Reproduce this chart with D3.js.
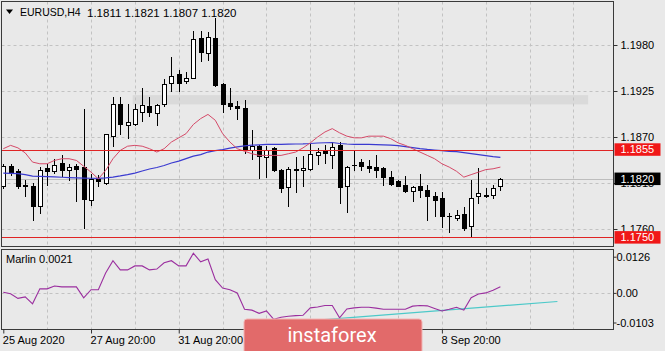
<!DOCTYPE html>
<html>
<head>
<meta charset="utf-8">
<script src="https://cdnjs.cloudflare.com/ajax/libs/d3/7.8.5/d3.min.js"></script>
<style>
    body { margin: 0; background: #e9e9e9; }
    svg { display: block; font-family: "Liberation Sans", Arial, sans-serif; }
</style>
</head>
<body>
<svg id="fig" width="665" height="351"></svg>
<script>
// EURUSD H4 candles
const opens = [1.1811,1.1835,1.1829,1.1813,1.1812,1.1787,1.1833,1.1829,1.1839,1.1831,
               1.1835,1.1834,1.1795,1.1820,1.1815,1.1871,1.1909,1.1884,1.1886,1.1900,
               1.1907,1.1899,1.1909,1.1934,1.1945,1.1937,1.1941,1.1988,1.1971,1.1988,
               1.1933,1.1911,1.1907,1.1905,1.1855,1.1859,1.1846,1.1857,1.1831,1.1810,
               1.1832,1.1830,1.1832,1.1848,1.1854,1.1849,1.1861,1.1811,1.1836,1.1840,
               1.1835,1.1834,1.1833,1.1822,1.1817,1.1813,1.1805,1.1811,1.1807,1.1799,
               1.1797,1.1776,1.1773,1.1778,1.1763,1.1799,1.1801,1.1801,1.1811];
const highs = [1.1838,1.1838,1.1832,1.1819,1.1815,1.1834,1.1838,1.1844,1.1849,1.1838,
               1.1838,1.1903,1.1826,1.1825,1.1874,1.1918,1.1918,1.1910,1.1910,1.1928,
               1.1918,1.1909,1.1939,1.1966,1.1950,1.1948,1.1997,1.1997,1.1995,1.2012,
               1.1934,1.1928,1.1913,1.1914,1.1878,1.1860,1.1859,1.1858,1.1832,1.1834,
               1.1846,1.1847,1.1862,1.1857,1.1861,1.1864,1.1864,1.1835,1.1854,1.1844,
               1.1842,1.1848,1.1834,1.1829,1.1819,1.1823,1.1812,1.1826,1.1813,1.1804,
               1.1804,1.1779,1.1783,1.1786,1.1819,1.1833,1.1809,1.1813,1.1821];
const lows  = [1.1809,1.1825,1.1809,1.1799,1.1771,1.1779,1.1813,1.1827,1.1823,1.1819,
               1.1793,1.1761,1.1789,1.1811,1.1814,1.1859,1.1874,1.1869,1.1884,1.1889,
               1.1895,1.1884,1.1907,1.1925,1.1925,1.1934,1.1940,1.1961,1.1962,1.1931,
               1.1900,1.1903,1.1891,1.1851,1.1844,1.1821,1.1822,1.1829,1.1804,1.1787,
               1.1804,1.1811,1.1830,1.1838,1.1839,1.1833,1.1791,1.1780,1.1831,1.1830,
               1.1828,1.1822,1.1813,1.1813,1.1811,1.1804,1.1794,1.1798,1.1771,1.1776,
               1.1762,1.1756,1.1771,1.1759,1.1751,1.1791,1.1798,1.1797,1.1807];
const closes = [1.1835,1.1827,1.1811,1.1811,1.1787,1.1831,1.1829,1.1837,1.1831,1.1834,
                1.1832,1.1796,1.1820,1.1817,1.1873,1.1909,1.1885,1.1888,1.1903,1.1908,
                1.1900,1.1908,1.1933,1.1943,1.1935,1.1940,1.1987,1.1972,1.1989,1.1932,
                1.1910,1.1907,1.1905,1.1856,1.1859,1.1847,1.1854,1.1830,1.1809,1.1832,
                1.1831,1.1833,1.1850,1.1852,1.1851,1.1858,1.1810,1.1834,1.1837,1.1835,
                1.1833,1.1831,1.1822,1.1814,1.1812,1.1805,1.1810,1.1807,1.1799,1.1795,
                1.1775,1.1775,1.1777,1.1761,1.1797,1.1803,1.1800,1.1809,1.1820];

// moving averages
const maRed = [1.1856,1.1860,1.1857,1.1851,1.1840,1.1838,1.1838,1.1842,1.1844,1.1844,
               1.1842,1.1835,1.1828,1.1820,1.1830,1.1844,1.1854,1.1859,1.1860,1.1859,
               1.1856,1.1852,1.1856,1.1864,1.1869,1.1874,1.1885,1.1892,1.1897,1.1890,
               1.1874,1.1864,1.1856,1.1853,1.1850,1.1848,1.1848,1.1848,1.1848,1.1850,
               1.1852,1.1857,1.1863,1.1870,1.1876,1.1880,1.1875,1.1871,1.1869,1.1869,
               1.1871,1.1871,1.1871,1.1868,1.1863,1.1860,1.1856,1.1852,1.1848,1.1844,
               1.1838,1.1834,1.1829,1.1822,1.1825,1.1828,1.1831,1.1832,1.1834];
const maBlue = [1.18267,1.18265,1.18263,1.18251,1.18233,1.18229,1.18226,1.18223,1.18219,1.18215,
                1.18212,1.18209,1.18207,1.18206,1.18212,1.18221,1.18235,1.18251,1.18269,1.18293,
                1.18317,1.18335,1.18359,1.18389,1.18412,1.18442,1.18472,1.18490,1.18520,1.18538,
                1.18550,1.18568,1.18582,1.18594,1.18602,1.18606,1.18611,1.18612,1.18613,1.18615,
                1.18616,1.18618,1.18622,1.18628,1.18631,1.18634,1.18622,1.18616,1.18613,1.18612,
                1.18611,1.18610,1.18607,1.18604,1.18597,1.18586,1.18574,1.18562,1.18552,1.18544,
                1.18536,1.18528,1.18524,1.18514,1.18502,1.18490,1.18478,1.18466,1.18457];

// Marlin oscillator
const marlin = [0.0002,-0.0003,-0.0019,-0.0014,-0.0038,0.0014,0.0014,0.0024,0.0021,0.0021,
                0.0021,-0.0017,0.0011,0.0011,0.0069,0.0112,0.0080,0.0080,0.0094,0.0094,
                0.0080,0.0083,0.0105,0.0112,0.0094,0.0094,0.0138,0.0108,0.0118,0.0046,
                0.0017,0.0011,0.0000,-0.0057,-0.0060,-0.0071,-0.0063,-0.0092,-0.0085,-0.0081,
                -0.0079,-0.0078,-0.0052,-0.0049,-0.0044,-0.0044,-0.0087,-0.0056,-0.0052,-0.0050,
                -0.0050,-0.0053,-0.0057,-0.0057,-0.0057,-0.0057,-0.0046,-0.0044,-0.0045,-0.0054,
                -0.0063,-0.0057,-0.0050,-0.0060,-0.0017,-0.0004,0.0000,0.0009,0.0021];
const trendIdx = [40, 75.8];
const trendVal = [-0.0101, -0.0030];

// levels, band, ticks
const levels = [1.1855, 1.1750];
const lastPrice = 1.1820;
const bandPrice = [1.1909, 1.1920];
const bandIdx = [17.7, 80];
const priceTicks = [1.1980, 1.1925, 1.1870, 1.1815, 1.1760];
const marlinTicks = [0.0126, 0, -0.0103];
const marlinTickText = ["0.0126", "0.00", "-0.0103"];
const timeIdx = [0, 12, 24, 60];
const timeText = ["25 Aug 2020", "27 Aug 20:00", "31 Aug 20:00", "8 Sep 20:00"];
const gridIdx = d3.range(6, 79, 6);

const left = 1.5, right = 613.5;
const mainTop = 1.5, mainBottom = 246.5;
const indTop = 249.5, indBottom = 329.5;

const svg = d3.select("#fig");
const x = d3.scaleLinear().domain([0, 80]).range([3.3, 3.3 + 7.31 * 80]);
const y = d3.scaleLinear().domain([1.1760, 1.1980]).range([229, 45]);
const yi = d3.scaleLinear().domain([-0.0103, 0.0126]).range([322.5, 256.7]);

svg.append("rect").attr("width", 665).attr("height", 351).attr("fill", "#e9e9e9");

const defs = svg.append("defs");
defs.append("clipPath").attr("id", "clipMain").append("rect")
    .attr("x", left).attr("y", mainTop).attr("width", right - left).attr("height", mainBottom - mainTop);
defs.append("clipPath").attr("id", "clipInd").append("rect")
    .attr("x", left).attr("y", indTop).attr("width", right - left).attr("height", indBottom - indTop);

// main pane
const main = svg.append("g").attr("clip-path", "url(#clipMain)");

main.append("rect")
    .attr("x", x(bandIdx[0])).attr("y", y(bandPrice[1]))
    .attr("width", x(bandIdx[1]) - x(bandIdx[0]))
    .attr("height", y(bandPrice[0]) - y(bandPrice[1]))
    .attr("fill", "#dadada");

main.selectAll(".vg").data(gridIdx).enter().append("line")
    .attr("x1", d => Math.round(x(d)) + 0.5).attr("x2", d => Math.round(x(d)) + 0.5)
    .attr("y1", mainTop).attr("y2", mainBottom)
    .attr("stroke", "#c2c2c2").attr("stroke-dasharray", "3,3");
main.selectAll(".hg").data(priceTicks).enter().append("line")
    .attr("x1", left).attr("x2", right)
    .attr("y1", d => Math.round(y(d)) + 0.5).attr("y2", d => Math.round(y(d)) + 0.5)
    .attr("stroke", "#c2c2c2").attr("stroke-dasharray", "3,3");

main.append("line")
    .attr("x1", left).attr("x2", right)
    .attr("y1", Math.round(y(lastPrice)) + 0.5).attr("y2", Math.round(y(lastPrice)) + 0.5)
    .attr("stroke", "#bdbdbd");

// candles
const bars = d3.range(opens.length);
const cg = main.append("g");
cg.selectAll(".wick").data(bars).enter().append("line")
    .attr("x1", i => Math.round(x(i)) + 0.5).attr("x2", i => Math.round(x(i)) + 0.5)
    .attr("y1", i => Math.round(y(highs[i]))).attr("y2", i => Math.round(y(lows[i])) + 1)
    .attr("stroke", "#000");
cg.selectAll(".body").data(bars).enter().append("rect")
    .attr("x", i => Math.round(x(i)) - 1.5)
    .attr("y", i => Math.round(y(Math.max(opens[i], closes[i]))) + 0.5)
    .attr("width", 4)
    .attr("height", i => {
        const h = Math.round(y(Math.min(opens[i], closes[i]))) - Math.round(y(Math.max(opens[i], closes[i])));
        return h > 0 ? h : 0.01;
    })
    .attr("fill", i => closes[i] >= opens[i] ? "#fff" : "#000")
    .attr("stroke", "#000");

// moving averages
const lineMain = d3.line().x((d, i) => x(i)).y(d => y(d));
main.append("path").datum(maBlue).attr("d", lineMain)
    .attr("fill", "none").attr("stroke", "#3a3ad0").attr("stroke-width", 1.2);
main.append("path").datum(maRed).attr("d", lineMain)
    .attr("fill", "none").attr("stroke", "#d44a68").attr("stroke-width", 1);

// horizontal levels
main.selectAll(".lvl").data(levels).enter().append("line")
    .attr("x1", left).attr("x2", right)
    .attr("y1", d => Math.round(y(d)) + 0.5).attr("y2", d => Math.round(y(d)) + 0.5)
    .attr("stroke", "#e02424");

svg.append("rect").attr("x", left).attr("y", mainTop)
    .attr("width", right - left).attr("height", mainBottom - mainTop)
    .attr("fill", "none").attr("stroke", "#3a3a3a");

// header
svg.append("path").attr("d", "M6,9.5 L13,9.5 L9.5,14 Z").attr("fill", "#000");
svg.append("text").attr("x", 20).attr("y", 12.5).attr("dy", "0.35em")
    .attr("font-size", 10.5).text("EURUSD,H4");
svg.append("text").attr("x", 87).attr("y", 12.5).attr("dy", "0.35em")
    .attr("font-size", 11.5)
    .text([opens, highs, lows, closes].map(a => a[a.length - 1].toFixed(4)).join(" "));

// price axis
const pAxis = svg.append("g").attr("transform", "translate(" + right + ",0)")
    .call(d3.axisRight(y).tickValues(priceTicks).tickFormat(d3.format(".4f")).tickSize(4).tickPadding(3));
pAxis.select(".domain").remove();
pAxis.selectAll("text").attr("font-size", 11).attr("font-family", "Liberation Sans, Arial, sans-serif").attr("fill", "#000");
pAxis.selectAll("line").attr("stroke", "#333");

// level labels
const tagW = 46, tagH = 12.5;
svg.selectAll(".tag").data(levels).enter().append("rect")
    .attr("x", right + 1).attr("y", d => y(d) - tagH / 2)
    .attr("width", tagW).attr("height", tagH).attr("fill", "#f01818");
svg.selectAll(".tagt").data(levels).enter().append("text")
    .attr("x", right + 7).attr("y", d => y(d)).attr("dy", "0.35em")
    .attr("font-size", 11).attr("fill", "#fff").text(d => d.toFixed(4));
svg.append("rect").attr("x", right + 1).attr("y", y(lastPrice) - tagH / 2)
    .attr("width", tagW).attr("height", tagH).attr("fill", "#000");
svg.append("text").attr("x", right + 7).attr("y", y(lastPrice)).attr("dy", "0.35em")
    .attr("font-size", 11).attr("fill", "#fff").text(lastPrice.toFixed(4));

// indicator pane
const ind = svg.append("g").attr("clip-path", "url(#clipInd)");
ind.selectAll(".vg").data(gridIdx).enter().append("line")
    .attr("x1", d => Math.round(x(d)) + 0.5).attr("x2", d => Math.round(x(d)) + 0.5)
    .attr("y1", indTop).attr("y2", indBottom)
    .attr("stroke", "#c2c2c2").attr("stroke-dasharray", "3,3");
ind.append("line").attr("x1", left).attr("x2", right)
    .attr("y1", Math.round(yi(0)) + 0.5).attr("y2", Math.round(yi(0)) + 0.5)
    .attr("stroke", "#c2c2c2").attr("stroke-dasharray", "3,3");

ind.append("path")
    .datum(trendIdx.map((d, i) => [d, trendVal[i]]))
    .attr("d", d3.line().x(d => x(d[0])).y(d => yi(d[1])))
    .attr("stroke", "#4cc9c9").attr("stroke-width", 1.2).attr("fill", "none");
ind.append("path").datum(marlin)
    .attr("d", d3.line().x((d, i) => x(i)).y(d => yi(d)))
    .attr("fill", "none").attr("stroke", "#9b2f9f").attr("stroke-width", 1.1);

svg.append("rect").attr("x", left).attr("y", indTop)
    .attr("width", right - left).attr("height", indBottom - indTop)
    .attr("fill", "none").attr("stroke", "#3a3a3a");
svg.append("text").attr("x", 6).attr("y", 259).attr("dy", "0.35em")
    .attr("font-size", 11).text("Marlin " + marlin[marlin.length - 1].toFixed(4));

const mAxis = svg.append("g").attr("transform", "translate(" + right + ",0)")
    .call(d3.axisRight(yi).tickValues(marlinTicks).tickFormat((d, i) => marlinTickText[i]).tickSize(3).tickPadding(0));
mAxis.select(".domain").remove();
mAxis.selectAll("text").attr("font-size", 11).attr("font-family", "Liberation Sans, Arial, sans-serif").attr("fill", "#000");
mAxis.selectAll("line").attr("stroke", "#333");

// time axis
const tAxis = svg.append("g").attr("transform", "translate(0," + indBottom + ")")
    .call(d3.axisBottom(x).tickValues(timeIdx).tickFormat((d, i) => timeText[i]).tickSize(4).tickPadding(3));
tAxis.select(".domain").remove();
tAxis.selectAll("text").attr("font-size", 11).attr("font-family", "Liberation Sans, Arial, sans-serif")
    .attr("fill", "#000").attr("text-anchor", "start").attr("dx", -1);
tAxis.selectAll("line").attr("stroke", "#333");

// watermark logo
svg.append("rect").attr("x", 244).attr("y", 319).attr("width", 178).attr("height", 40).attr("rx", 3)
    .attr("fill", "#e26a6a").attr("stroke", "#f2b4b4").attr("stroke-width", 1);
svg.append("text").attr("x", 332).attr("y", 342).attr("text-anchor", "middle")
    .attr("font-family", "Roboto, sans-serif").attr("font-size", 20).attr("fill", "#fff").text("instaforex");
</script>
</body>
</html>
